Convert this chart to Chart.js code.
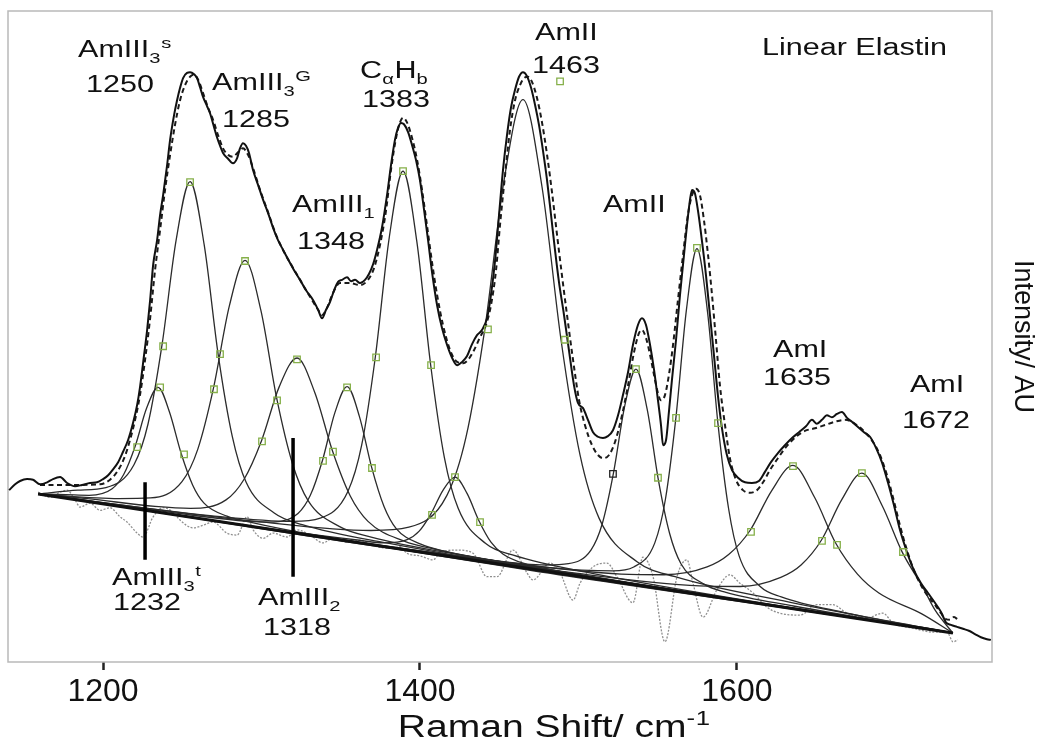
<!DOCTYPE html>
<html>
<head>
<meta charset="utf-8">
<title>Linear Elastin Raman spectrum</title>
<script src="https://cdn.jsdelivr.net/npm/chart.js@4.4.1/dist/chart.umd.min.js"></script>
<style>
  html, body { margin: 0; padding: 0; background: #fff; }
  canvas { display: block; }
</style>
</head>
<body>
<canvas id="myChart" width="1037" height="742"></canvas>
<script>
/* ---------- DATA (Raman shift, intensity AU) ---------- */
const shiftTicks = [1200, 1400, 1600];

const measured = [
  [1140.7,26.4],[1144.5,27.3],[1147.6,27.8],[1152.0,28.1],[1155.8,28.0],[1160.2,27.3],[1164.7,27.6],[1168.4,28.1],
  [1172.9,28.4],[1177.3,27.5],[1182.3,27.0],[1186.7,27.2],[1191.8,27.5],[1196.2,27.6],[1200.0,28.1],[1203.2,28.7],
  [1206.3,29.6],[1209.5,30.7],[1212.6,32.3],[1215.8,34.1],[1218.9,36.7],[1221.5,39.5],[1223.3,42.2],[1225.9,47.2],
  [1227.8,51.0],[1229.7,55.6],[1231.6,61.0],[1234.1,64.8],[1236.0,68.7],[1237.9,71.7],[1240.4,76.3],[1242.3,80.2],
  [1244.8,84.0],[1246.7,86.3],[1248.6,88.2],[1250.5,89.7],[1253.0,90.5],[1254.9,90.6],[1257.4,90.3],[1259.3,89.7],
  [1261.2,88.3],[1263.1,86.8],[1265.6,85.4],[1267.5,84.3],[1270.0,82.2],[1271.9,80.6],[1273.8,79.3],[1275.7,78.2],
  [1278.9,77.3],[1282.0,76.6],[1284.6,77.4],[1286.4,78.9],[1288.3,79.7],[1290.2,79.3],[1292.1,78.2],[1294.6,75.6],
  [1297.8,73.3],[1301.0,71.0],[1304.1,69.0],[1307.3,66.7],[1310.4,64.8],[1313.6,63.3],[1318.0,61.3],[1321.2,59.9],
  [1324.3,58.7],[1328.1,57.1],[1332.5,55.6],[1335.7,54.1],[1338.2,52.8],[1340.7,54.1],[1343.2,55.3],[1345.8,57.1],
  [1348.3,58.4],[1350.8,58.7],[1354.0,59.1],[1356.5,58.5],[1359.0,58.7],[1362.2,58.2],[1365.3,58.7],[1367.8,59.6],
  [1370.4,61.1],[1372.9,63.3],[1376.0,66.7],[1379.2,71.7],[1381.7,76.3],[1384.2,80.2],[1386.1,82.0],[1388.0,82.8],
  [1389.9,82.6],[1392.5,81.4],[1395.0,79.4],[1397.5,77.1],[1400.0,74.0],[1402.6,69.4],[1405.1,64.8],[1407.6,59.9],
  [1410.8,54.8],[1413.9,51.3],[1417.1,48.7],[1420.3,46.7],[1423.4,45.6],[1426.6,46.1],[1429.7,47.0],[1432.8,48.8],
  [1436.0,50.2],[1439.1,51.0],[1442.3,52.8],[1444.8,56.4],[1447.4,61.7],[1449.9,68.7],[1452.4,75.6],[1454.9,80.9],
  [1457.4,85.1],[1460.0,87.9],[1462.5,89.9],[1465.0,90.6],[1467.5,90.0],[1470.1,88.2],[1472.6,85.6],[1475.1,82.5],
  [1477.6,78.6],[1480.2,74.0],[1482.7,68.7],[1485.2,63.3],[1487.7,58.4],[1490.9,53.3],[1494.0,47.9],[1497.2,42.5],
  [1499.7,39.8],[1502.9,39.0],[1506.0,37.2],[1509.2,35.3],[1512.3,34.6],[1515.5,34.4],[1518.6,34.7],[1521.8,35.6],
  [1525.0,37.9],[1528.1,41.0],[1531.3,44.5],[1534.4,48.7],[1537.6,51.8],[1540.1,52.8],[1542.6,51.8],[1545.2,48.7],
  [1547.7,44.9],[1550.2,40.2],[1552.1,36.4],[1553.4,33.3],[1555.3,34.1],[1557.1,38.4],[1559.0,43.3],[1561.6,49.5],
  [1564.1,56.4],[1566.6,62.5],[1568.5,67.1],[1570.4,71.0],[1571.7,72.5],[1573.5,72.0],[1575.4,69.4],[1577.9,64.8],
  [1580.5,59.4],[1583.0,53.3],[1585.5,47.2],[1588.0,41.0],[1590.6,35.9],[1593.7,31.8],[1596.9,29.5],[1600.7,28.3],
  [1605.1,27.6],[1609.5,27.5],[1613.9,27.8],[1617.7,29.2],[1621.5,30.7],[1625.9,32.1],[1630.3,33.3],[1634.8,34.4],
  [1639.2,35.3],[1643.6,36.2],[1647.4,37.2],[1650.5,36.6],[1653.7,37.2],[1656.8,37.9],[1660.0,37.6],[1663.1,38.1],
  [1666.3,38.4],[1669.5,37.5],[1672.6,36.9],[1676.4,36.1],[1680.2,35.3],[1684.0,34.6],[1687.8,32.9],[1691.5,30.7],
  [1695.3,27.6],[1699.1,24.1],[1702.9,20.3],[1707.3,16.9],[1711.7,14.1],[1716.2,12.1],[1720.6,10.6],[1725.0,9.1],
  [1728.8,7.7],[1731.9,6.1],[1735.1,5.7],[1738.9,5.4],[1742.7,5.1],[1746.4,4.8],[1750.2,4.3],[1754.0,3.8],
  [1757.8,3.5],[1760.3,3.4]
];

const fitted = [
  [1160.2,27.2],[1179.2,27.2],[1198.1,27.3],[1204.4,28.0],[1208.8,29.2],[1213.3,31.3],[1217.0,34.1],[1220.2,37.2],
  [1223.3,41.0],[1226.5,46.4],[1229.7,52.8],[1232.8,60.2],[1236.0,66.4],[1239.1,72.5],[1242.3,77.9],[1245.4,82.5],
  [1248.6,86.3],[1251.7,88.6],[1254.9,89.9],[1257.4,90.2],[1259.9,89.5],[1263.1,87.4],[1266.2,85.2],[1269.4,83.3],
  [1272.6,80.9],[1275.7,78.9],[1278.9,77.9],[1282.0,77.6],[1285.2,78.3],[1288.3,78.9],[1291.5,77.9],[1294.6,75.9],
  [1299.1,72.5],[1304.1,69.1],[1309.2,65.6],[1314.2,63.0],[1319.3,60.8],[1324.3,58.7],[1330.6,56.1],[1335.7,54.1],
  [1338.2,53.3],[1341.3,54.4],[1345.1,56.7],[1349.5,58.2],[1355.8,58.2],[1362.2,57.9],[1367.2,58.7],[1371.0,60.5],
  [1374.8,64.1],[1378.6,69.4],[1381.7,75.6],[1384.9,80.5],[1387.4,82.9],[1389.3,83.6],[1391.8,82.9],[1395.0,80.5],
  [1398.2,77.1],[1401.3,72.5],[1404.4,67.1],[1407.6,61.4],[1410.8,56.4],[1414.5,51.8],[1419.0,47.9],[1423.4,46.1],
  [1427.2,45.9],[1430.3,46.4],[1434.1,47.9],[1437.9,49.9],[1441.7,51.8],[1444.8,54.8],[1448.0,60.2],[1450.5,67.1],
  [1453.7,74.8],[1456.8,81.7],[1460.0,86.3],[1463.1,88.6],[1465.7,89.7],[1468.2,89.9],[1470.7,89.1],[1473.9,86.6],
  [1477.0,82.9],[1480.2,77.9],[1483.3,72.2],[1486.5,65.6],[1489.6,59.4],[1492.8,53.3],[1496.6,46.4],[1500.4,40.2],
  [1504.1,36.4],[1508.6,33.3],[1512.3,31.8],[1515.5,31.3],[1519.3,31.8],[1523.1,33.8],[1527.5,37.9],[1531.3,42.5],
  [1535.1,47.6],[1538.2,50.5],[1540.1,51.0],[1542.6,49.8],[1545.2,47.2],[1547.7,44.1],[1550.2,41.3],[1552.1,40.2],
  [1554.6,41.0],[1557.1,44.1],[1559.7,48.7],[1562.8,55.6],[1566.0,62.5],[1569.1,68.7],[1571.7,71.7],[1574.2,72.7],
  [1576.7,71.7],[1579.2,67.9],[1581.8,62.5],[1584.3,56.4],[1586.8,49.5],[1589.3,42.5],[1592.5,36.4],[1595.6,31.3],
  [1599.4,28.0],[1603.8,26.4],[1608.3,26.0],[1612.7,26.4],[1616.5,27.6],[1620.9,29.5],[1625.9,31.3],[1631.6,33.2],
  [1637.3,34.6],[1642.9,35.5],[1649.3,35.9],[1655.6,36.4],[1661.9,36.9],[1668.2,37.2],[1674.5,36.6],[1680.8,35.3],
  [1685.9,33.8],[1690.3,31.8],[1694.7,28.7],[1698.5,25.3],[1702.9,21.0],[1707.3,17.2],[1711.7,14.1],[1716.2,11.8],
  [1720.6,10.1],[1725.0,8.8],[1728.8,7.5],[1731.9,6.6],[1734.5,6.5],[1737.0,6.9],[1739.5,6.5]
];

const residual = [
  [1159.0,26.1],[1166.6,25.3],[1172.9,26.1],[1177.3,26.4],[1182.3,24.9],[1185.5,23.8],[1191.8,24.4],[1198.1,23.3],
  [1204.4,23.7],[1210.7,22.3],[1215.1,21.5],[1221.5,19.8],[1225.2,19.2],[1231.6,22.3],[1237.9,23.7],[1244.2,23.0],
  [1248.6,21.8],[1256.8,20.6],[1263.1,21.0],[1269.4,21.5],[1278.2,19.8],[1284.6,19.5],[1290.9,22.3],[1294.7,20.3],
  [1301.0,19.0],[1307.3,19.8],[1316.1,19.2],[1322.4,20.3],[1330.6,19.5],[1338.8,18.3],[1345.1,19.0],[1354.0,18.4],
  [1362.2,18.7],[1371.6,17.8],[1381.1,17.5],[1387.4,17.7],[1391.8,16.7],[1400.0,16.3],[1408.2,15.7],[1412.6,16.7],
  [1423.4,17.2],[1433.5,16.7],[1442.3,13.1],[1448.6,13.1],[1458.7,17.2],[1467.5,13.7],[1471.3,12.6],[1482.1,15.2],
  [1488.4,13.7],[1496.6,9.5],[1501.0,12.1],[1509.2,14.6],[1518.0,15.2],[1524.3,13.1],[1534.4,9.1],[1540.7,16.1],
  [1547.1,13.1],[1554.6,3.1],[1562.2,13.1],[1568.5,15.7],[1572.3,12.1],[1578.6,6.9],[1587.4,11.1],[1595.6,13.4],
  [1601.9,12.1],[1610.2,10.6],[1619.0,8.4],[1627.2,7.5],[1639.8,7.2],[1650.5,8.8],[1660.6,8.8],[1669.5,7.5],
  [1682.1,6.8],[1692.2,7.5],[1698.5,6.0],[1711.1,5.2],[1723.7,4.6],[1732.6,4.6],[1736.4,3.1],[1739.5,3.4]
];

const baseline = [[1159, 25.8], [1736.3, 4.45]];

// fitted component bands
const amIII3t = [[1159,25.8],[1176.7,25.7],[1191.2,25.6],[1205.7,26.6],[1213.0,28.8],[1220.2,33.1],[1227.5,39.0],[1234.7,42.2],
  [1241.9,38.4],[1249.2,32.1],[1256.5,27.2],[1263.7,24.4],[1278.2,22.4],[1292.7,21.5],[1336.2,19.4],[1736.3,4.45]];
const amIII3s = [[1159,25.8],[1184.1,26.4],[1201.8,26.8],[1219.5,30.3],[1228.4,36.6],[1237.2,48.7],[1246.1,64.8],[1254.9,73.8],
  [1263.8,64.1],[1272.6,47.3],[1281.5,34.7],[1290.3,27.6],[1308.0,22.9],[1325.7,21.1],[1378.8,18.3],[1736.3,4.45]];
const amIII3G = [[1159,25.8],[1210.0,25.1],[1229.9,25.2],[1249.8,27.7],[1259.8,32.7],[1269.7,42.1],[1279.7,54.7],[1289.6,61.7],
  [1299.6,54.0],[1309.5,40.6],[1319.5,30.5],[1329.4,24.8],[1349.3,20.8],[1369.2,19.2],[1428.9,16.3],[1736.3,4.45]];
const amIII2 = [[1159,25.8],[1190,25.1],[1232.8,23.9],[1255.2,23.6],[1277.6,24.9],[1288.8,28.0],[1300.0,34.0],[1311.2,42.3],
  [1322.4,46.7],[1333.6,41.4],[1344.8,32.4],[1356.0,25.5],[1367.2,21.6],[1389.6,18.6],[1412.0,17.2],[1479.2,14.3],[1736.3,4.45]];
const amIII1 = [[1159,25.8],[1245.5,22.9],[1292.0,21.6],[1307.5,21.5],[1323.0,22.8],[1330.8,25.6],[1338.5,31.0],[1346.3,38.3],
  [1354.0,42.3],[1361.8,37.7],[1369.5,29.9],[1377.3,23.9],[1385.0,20.5],[1400.5,18.1],[1416.0,17.0],[1462.5,14.9],[1736.3,4.45]];
const caHb = [[1159,25.8],[1267.5,22.5],[1319.7,21.6],[1337.1,22.1],[1354.5,26.2],[1363.2,33.3],[1371.9,47.0],[1380.6,65.2],
  [1389.3,75.4],[1398.0,64.6],[1406.7,45.7],[1415.4,31.4],[1424.1,23.6],[1441.5,18.2],[1458.9,16.4],[1511.1,13.5],[1736.3,4.45]];
const band1422 = [[1159,25.8],[1316.4,20.1],[1361.7,18.7],[1376.8,18.3],[1391.9,18.8],[1399.5,20.1],[1407.0,22.8],[1414.6,26.4],
  [1422.1,28.4],[1429.7,25.9],[1437.2,21.7],[1444.8,18.4],[1452.3,16.6],[1467.4,15.0],[1482.5,14.2],[1527.8,12.3],[1736.3,4.45]];
const amII1463 = [[1159,25.8],[1297.0,21.6],[1369.0,20.2],[1393.0,20.7],[1417.0,25.6],[1429.0,34.5],[1441.0,51.3],[1453.0,73.9],
  [1465.0,86.4],[1477.0,73.0],[1489.0,49.5],[1501.0,31.8],[1513.0,22.1],[1537.0,15.4],[1561.0,13.1],[1633.0,9.2],[1736.3,4.45]];
const band1536 = [[1159,25.8],[1436.9,15.9],[1479.5,14.9],[1493.7,15.1],[1507.9,17.2],[1515.0,21.2],[1522.1,29.0],[1529.2,39.3],
  [1536.3,45.0],[1543.4,38.8],[1550.5,27.9],[1557.6,19.7],[1564.7,15.1],[1578.9,12.0],[1593.1,10.7],[1635.7,8.6],[1736.3,4.45]];
const band1575 = [[1159,25.8],[1481.7,14.5],[1521.6,14.0],[1534.9,14.6],[1548.2,18.3],[1554.9,25.0],[1561.5,37.5],[1568.2,54.2],
  [1574.8,63.5],[1581.5,53.7],[1588.1,36.5],[1594.8,23.5],[1601.4,16.3],[1614.7,11.6],[1628.0,10.0],[1667.9,7.6],[1736.3,4.45]];
const amI1635 = [[1159,25.8],[1445.7,15.6],[1527.0,13.5],[1554.1,13.4],[1581.2,14.6],[1594.8,16.5],[1608.3,20.2],[1621.9,26.3],
  [1635.4,30.2],[1649.0,25.3],[1662.5,18.2],[1676.1,13.5],[1689.6,10.6],[1716.7,7.4],[1736.3,4.45]];
const amI1672 = [[1159,25.8],[1499.7,13.6],[1576.5,11.7],[1602.1,11.6],[1627.7,13.0],[1640.5,14.9],[1653.3,18.7],[1666.1,24.9],
  [1678.9,29.0],[1691.7,24.0],[1704.5,16.8],[1717.3,11.5],[1725.0,8.0],[1736.3,4.45]];

// fit handles (green squares) and the one black handle
const handleSquares = [
  [1254.9,73.7],[1237.9,48.5],[1273.8,47.3],[1289.6,61.6],[1270.0,41.9],[1309.8,40.2],[1236.0,42.2],[1221.5,33.0],
  [1251.1,31.9],[1322.4,46.5],[1300.3,33.9],[1345.1,32.3],[1354.0,42.2],[1338.8,30.9],[1369.7,29.8],[1389.3,75.4],
  [1372.3,46.8],[1407.0,45.6],[1422.1,28.4],[1407.6,22.6],[1437.9,21.5],[1488.4,89.2],[1442.9,51.1],[1491.5,49.5],
  [1536.3,45.0],[1550.2,28.3],[1574.8,63.6],[1561.6,37.5],[1588.1,36.7],[1635.4,30.1],[1608.9,20.0],[1663.2,18.0],
  [1678.9,29.0],[1653.7,18.6],[1704.8,16.9]
];
const blackHandle = [[1521.8, 28.9]];

// vertical band markers
const marker1232 = [[1226.5, 27.6], [1226.5, 15.7]];
const marker1318 = [[1319.9, 34.4], [1319.9, 13.1]];

// band labels: '_' = subscript, '^' = superscript for the next character
const peakLabels = [
  { text: 'AmIII_3^s', x: 1184.2, y: 92.9 },
  { text: '1250', x: 1189.3, y: 87.6 },
  { text: 'AmIII_3^G', x: 1268.8, y: 87.9 },
  { text: '1285', x: 1275.1, y: 82.2 },
  { text: 'AmIII_1', x: 1319.3, y: 69.1 },
  { text: '1348', x: 1322.4, y: 63.4 },
  { text: 'C_αH_b', x: 1362.2, y: 89.7 },
  { text: '1383', x: 1363.4, y: 85.2 },
  { text: 'AmII', x: 1472.6, y: 95.5 },
  { text: '1463', x: 1470.7, y: 90.5 },
  { text: 'AmII', x: 1515.5, y: 69.1 },
  { text: 'Linear Elastin', x: 1615.8, y: 93.2 },
  { text: 'AmI', x: 1622.8, y: 46.8 },
  { text: '1635', x: 1616.5, y: 42.5 },
  { text: 'AmI', x: 1709.2, y: 41.5 },
  { text: '1672', x: 1704.2, y: 35.9 },
  { text: 'AmIII_3^t', x: 1205.7, y: 11.8 },
  { text: '1232', x: 1206.3, y: 8.0 },
  { text: 'AmIII_2', x: 1297.8, y: 8.8 },
  { text: '1318', x: 1301.0, y: 4.1 }
];

// x axis title, left edge at this shift value
const xTitle = { text: 'Raman Shift/ cm^-^1', x: 1386 };

/* ---------- UTILITY ---------- */
const FONT = '"Liberation Sans", Arial, Helvetica, sans-serif';
const toXY = arr => arr.map(([x, y]) => ({ x, y }));

function lineSet(data, extra) {
    return Object.assign({
        data: toXY(data),
        borderColor: '#2b2b2b',
        borderWidth: 1.3,
        pointRadius: 0,
        fill: false,
        cubicInterpolationMode: 'monotone'
    }, extra || {});
}

// draws text with simple sub/superscripts, widened like the original figure
function drawRichText(ctx, text, px, py, size, stretch) {
    const runs = [];
    for (let i = 0; i < text.length; i++) {
        const ch = text[i];
        if ((ch === '_' || ch === '^') && i + 1 < text.length) {
            runs.push({ t: text[++i], mode: ch });
        } else if (runs.length && runs[runs.length - 1].mode === '') {
            runs[runs.length - 1].t += ch;
        } else {
            runs.push({ t: ch, mode: '' });
        }
    }
    const small = size * 0.66;
    ctx.save();
    ctx.translate(px, py);
    ctx.scale(stretch, 1);
    ctx.fillStyle = '#111';
    ctx.textAlign = 'left';
    ctx.textBaseline = 'alphabetic';
    let cx = 0;
    runs.forEach(r => {
        const isSmall = r.mode !== '';
        ctx.font = (isSmall ? small : size) + 'px ' + FONT;
        const dy = r.mode === '_' ? size * 0.26 : (r.mode === '^' ? -size * 0.38 : 0);
        ctx.fillText(r.t, cx, dy);
        cx += ctx.measureText(r.t).width + (isSmall ? 0.5 : 0);
    });
    ctx.restore();
}

/* ---------- FRAME + LABELS PLUGIN ---------- */
const figurePlugin = {
    id: 'figure',
    beforeDatasetsDraw(chart) {
        const { ctx, chartArea: a } = chart;
        ctx.save();
        ctx.strokeStyle = '#b9b9b9';
        ctx.lineWidth = 1.5;
        ctx.strokeRect(a.left, a.top, a.right - a.left, a.bottom - a.top);
        ctx.restore();
    },
    afterDatasetsDraw(chart) {
        const { ctx, scales } = chart;
        peakLabels.forEach(l => {
            drawRichText(ctx, l.text, scales.x.getPixelForValue(l.x), scales.y.getPixelForValue(l.y), 23.5, 1.3);
        });
    },
    afterDraw(chart) {
        const xs = chart.scales.x;
        drawRichText(chart.ctx, xTitle.text, xs.getPixelForValue(xTitle.x), xs.bottom - 5, 31, 1.26);
    }
};

/* ---------- CHART ---------- */
const ctx = document.getElementById('myChart').getContext('2d');

const squareStyle = {
    showLine: false,
    pointStyle: 'rect',
    pointRadius: 4.6,
    pointBorderWidth: 1.3,
    pointBackgroundColor: 'rgba(255,255,255,0)'
};

new Chart(ctx, {
    type: 'line',
    data: {
        datasets: [
            lineSet(handleSquares, Object.assign({ pointBorderColor: '#86b04a', borderColor: '#86b04a' }, squareStyle)),
            lineSet(blackHandle, Object.assign({ pointBorderColor: '#222', borderColor: '#222' }, squareStyle)),
            lineSet(marker1232, { borderColor: '#000', borderWidth: 3.5, cubicInterpolationMode: 'default' }),
            lineSet(marker1318, { borderColor: '#000', borderWidth: 3.5, cubicInterpolationMode: 'default' }),
            lineSet(measured, { borderColor: '#111', borderWidth: 2 }),
            lineSet(fitted, { borderColor: '#1a1a1a', borderWidth: 2, borderDash: [5, 3.5] }),
            lineSet(baseline, { borderColor: '#111', borderWidth: 3, cubicInterpolationMode: 'default' }),
            lineSet(amIII3t),
            lineSet(amIII3s),
            lineSet(amIII3G),
            lineSet(amIII2),
            lineSet(amIII1),
            lineSet(caHb),
            lineSet(band1422),
            lineSet(amII1463),
            lineSet(band1536),
            lineSet(band1575),
            lineSet(amI1635),
            lineSet(amI1672),
            lineSet(residual, { borderColor: '#8f8f8f', borderWidth: 1.3, borderDash: [2, 1.5] })
        ]
    },
    plugins: [figurePlugin],
    options: {
        responsive: false,
        animation: false,
        devicePixelRatio: 1,
        layout: { padding: { left: 8, top: 11, right: 0, bottom: 0 } },
        plugins: {
            legend: { display: false },
            tooltip: { enabled: false }
        },
        scales: {
            x: {
                type: 'linear',
                min: 1140,
                max: 1761,
                afterBuildTicks: scale => { scale.ticks = shiftTicks.map(v => ({ value: v })); },
                afterFit: scale => { scale.height = 80; },
                grid: {
                    display: true,
                    drawOnChartArea: false,
                    drawTicks: true,
                    tickLength: 8,
                    tickWidth: 2.5,
                    tickColor: '#222'
                },
                border: { display: false },
                ticks: {
                    color: '#111',
                    font: { family: FONT, size: 32 },
                    padding: 3,
                    maxRotation: 0,
                    autoSkip: false,
                    callback: value => String(value)
                },
                title: { display: false }
            },
            y: {
                type: 'linear',
                position: 'right',
                min: 0,
                max: 100,
                afterFit: scale => { scale.width = 45; },
                grid: { display: false },
                border: { display: false },
                ticks: { display: false },
                title: {
                    display: true,
                    text: 'Intensity/ AU',
                    color: '#111',
                    font: { family: FONT, size: 27, lineHeight: 1 },
                    padding: { top: 1.5, bottom: 0 }
                }
            }
        }
    }
});
</script>
</body>
</html>
